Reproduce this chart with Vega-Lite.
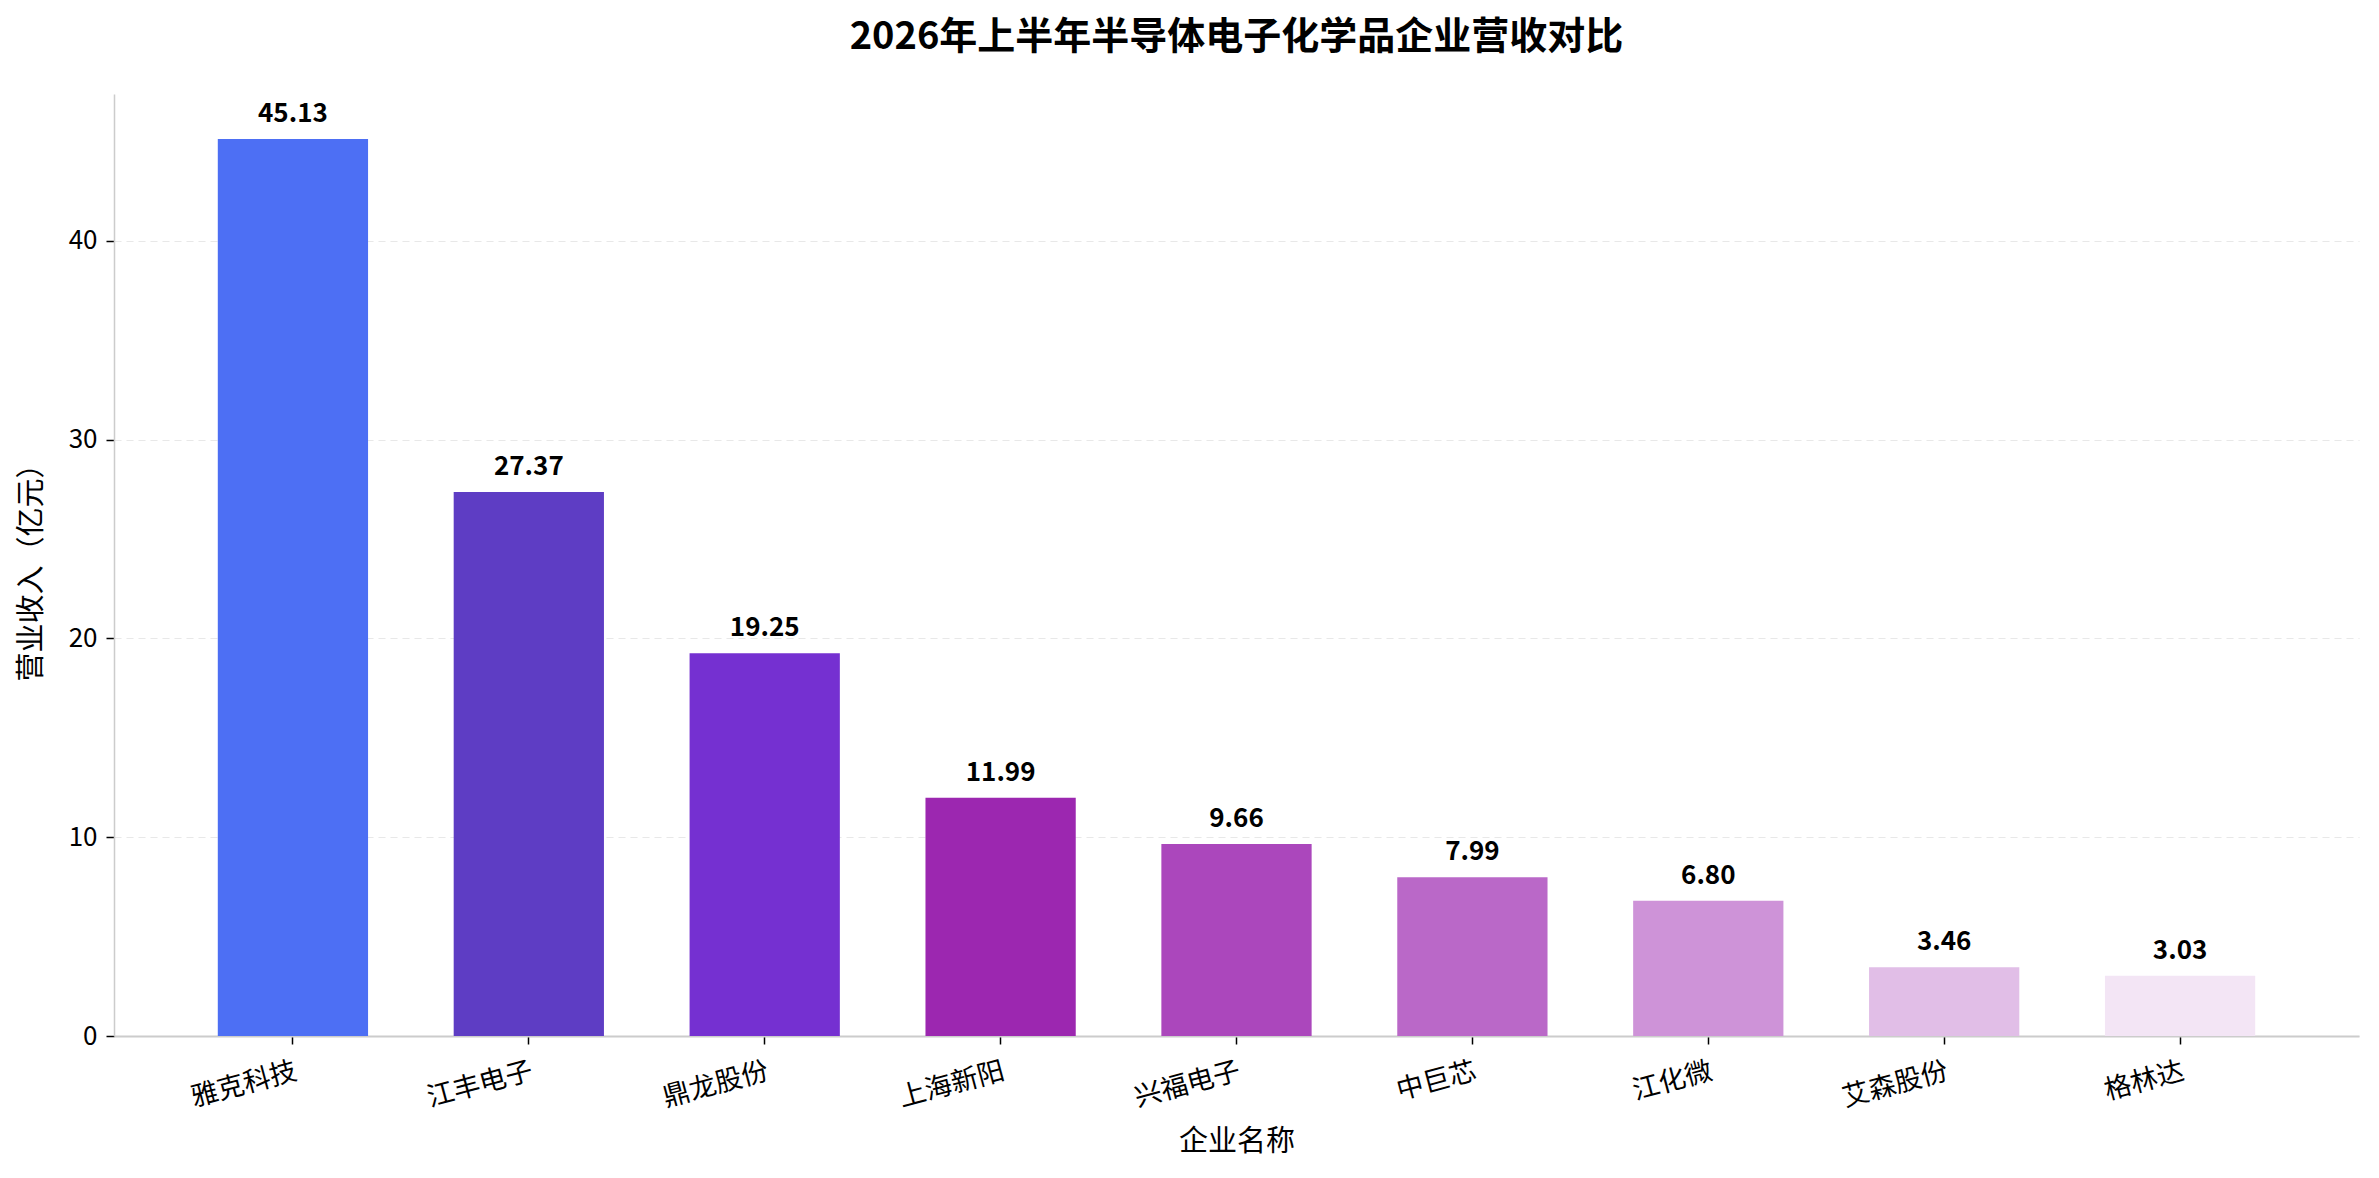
{
  "$schema": "https://vega.github.io/schema/vega-lite/v6.json",
  "autosize": {"type": "none"},
  "padding": {"left": 114, "top": 94, "right": 20, "bottom": 142},
  "width": 2245,
  "height": 942,
  "background": "white",
  "title": {
    "text": "2026年上半年半导体电子化学品企业营收对比",
    "anchor": "middle",
    "fontSize": 38,
    "fontWeight": "bold",
    "font": "Noto Sans CJK SC",
    "color": "#000000",
    "offset": 37
  },
  "config": {
    "view": {"stroke": null},
    "font": "Noto Sans CJK SC",
    "axis": {
      "labelFont": "Noto Sans CJK SC",
      "titleFont": "Noto Sans CJK SC",
      "labelColor": "#000000",
      "titleColor": "#000000",
      "tickColor": "#000000",
      "domainColor": "#cccccc",
      "titleFontWeight": "normal"
    }
  },
  "data": {
    "values": [
      {"company": "雅克科技", "revenue": 45.13},
      {"company": "江丰电子", "revenue": 27.37},
      {"company": "鼎龙股份", "revenue": 19.25},
      {"company": "上海新阳", "revenue": 11.99},
      {"company": "兴福电子", "revenue": 9.66},
      {"company": "中巨芯", "revenue": 7.99},
      {"company": "江化微", "revenue": 6.80},
      {"company": "艾森股份", "revenue": 3.46},
      {"company": "格林达", "revenue": 3.03}
    ]
  },
  "encoding": {
    "x": {
      "field": "company",
      "type": "nominal",
      "sort": null,
      "scale": {"paddingInner": 0.363, "paddingOuter": 0.44},
      "axis": {
        "title": "企业名称",
        "titleFontSize": 29,
        "titlePadding": 16,
        "labelAngle": -15,
        "labelAlign": "right",
        "labelBaseline": "top",
        "labelFontSize": 27,
        "labelPadding": 14,
        "tickSize": 8,
        "tickWidth": 1.5,
        "domainWidth": 1.8,
        "grid": false
      }
    },
    "y": {
      "field": "revenue",
      "type": "quantitative",
      "scale": {"domain": [0, 47.39], "nice": false},
      "axis": {
        "title": "营业收入（亿元）",
        "titleFontSize": 29,
        "titlePadding": 22,
        "labelFontSize": 26,
        "labelPadding": 9,
        "tickSize": 8,
        "tickWidth": 1.5,
        "domainWidth": 1.5,
        "values": [0, 10, 20, 30, 40],
        "grid": true,
        "gridColor": "#e8e8e8",
        "gridDash": [7, 5],
        "gridWidth": 1.2
      }
    }
  },
  "layer": [
    {
      "mark": {"type": "bar", "stroke": null},
      "encoding": {
        "color": {
          "field": "company",
          "type": "nominal",
          "sort": null,
          "legend": null,
          "scale": {
            "domain": ["雅克科技", "江丰电子", "鼎龙股份", "上海新阳", "兴福电子", "中巨芯", "江化微", "艾森股份", "格林达"],
            "range": ["#4D6FF4", "#5E3DC4", "#7530D1", "#9C27B0", "#AB47BC", "#BA68C8", "#CE93D8", "#E1BEE7", "#F3E5F5"]
          }
        }
      }
    },
    {
      "mark": {"type": "text", "baseline": "bottom", "dy": -12, "fontSize": 26, "fontWeight": "bold", "color": "#000000", "font": "Noto Sans CJK SC"},
      "encoding": {
        "text": {"field": "revenue", "type": "quantitative", "format": ".2f"}
      }
    }
  ]
}
